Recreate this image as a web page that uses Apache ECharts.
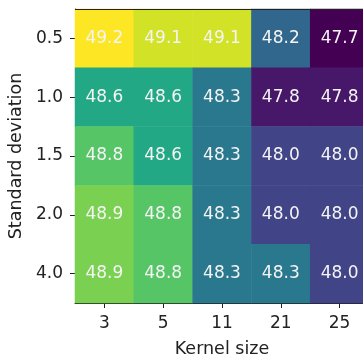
<!DOCTYPE html>
<html><head><meta charset="utf-8">
<script src="https://cdn.jsdelivr.net/npm/echarts@6/dist/echarts.min.js"></script>
<style>html,body{margin:0;padding:0;background:#fff}#c{width:363px;height:354px}</style>
</head><body><div id="c"></div>
<script>
const kernelSizes = ['3', '5', '11', '21', '25'];
const stdDevs = ['0.5', '1.0', '1.5', '2.0', '4.0'];
// rows follow stdDevs, columns follow kernelSizes
const row05 = [49.2, 49.1, 49.1, 48.2, 47.7];
const row10 = [48.6, 48.6, 48.3, 47.8, 47.8];
const row15 = [48.8, 48.6, 48.3, 48.0, 48.0];
const row20 = [48.9, 48.8, 48.3, 48.0, 48.0];
const row40 = [48.9, 48.8, 48.3, 48.3, 48.0];
const rows = [row05, row10, row15, row20, row40];

const data = [];
rows.forEach((r, yi) => r.forEach((v, xi) => data.push([xi, yi, v])));

const viridis = ['#440154','#482475','#414487','#355f8d','#2a788e','#21918c','#22a884','#44bf70','#7ad151','#bddf26','#fde725'];
const font = 'DejaVu Sans';
const chart = echarts.init(document.getElementById('c'));
chart.setOption({
  animation: false,
  textStyle: {fontFamily: font},
  grid: {left: 75, top: 9, width: 294, height: 294, containLabel: false, outerBoundsMode: 'none'},
  xAxis: {
    type: 'category', data: kernelSizes, position: 'bottom',
    name: 'Kernel size', nameLocation: 'middle', nameGap: 37,
    nameTextStyle: {fontFamily: font, fontSize: 17.5, color: '#222'},
    axisLine: {show: true, lineStyle: {color: '#222', width: 1}},
    axisTick: {show: true, alignWithLabel: true, length: 5, lineStyle: {color: '#222'}},
    axisLabel: {fontFamily: font, fontSize: 17, color: '#222', margin: 12},
    splitLine: {show: false}
  },
  yAxis: {
    type: 'category', data: stdDevs, inverse: true,
    name: 'Standard deviation', nameLocation: 'middle', nameGap: 47,
    nameTextStyle: {fontFamily: font, fontSize: 17.5, color: '#222'},
    axisLine: {show: true, lineStyle: {color: '#222', width: 1}},
    axisTick: {show: true, alignWithLabel: true, length: 5, lineStyle: {color: '#222'}},
    axisLabel: {fontFamily: font, fontSize: 17, color: '#222', margin: 12},
    splitLine: {show: false}
  },
  visualMap: {show: false, min: 47.7, max: 49.2, dimension: 2, inRange: {color: viridis}},
  series: [{
    type: 'heatmap', data: data,
    label: {show: true, color: '#f4f4f4', fontFamily: font, fontSize: 17,
      formatter: p => p.value[2].toFixed(1)},
    itemStyle: {borderWidth: 0},
    emphasis: {disabled: true}
  }],
  graphic: [{type: 'line', shape: {x1: 75, y1: 9.5, x2: 369, y2: 9.5}, style: {stroke: '#222', lineWidth: 1}, z: 100}]
});
</script></body></html>
